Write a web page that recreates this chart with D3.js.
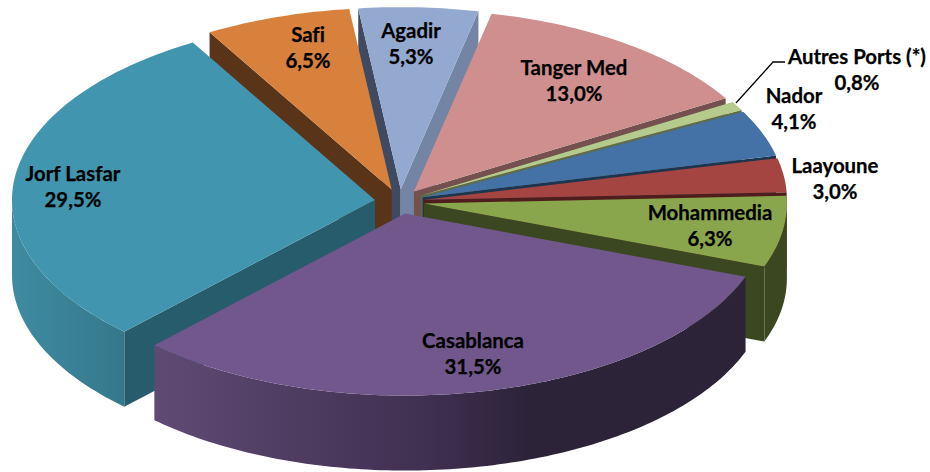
<!DOCTYPE html>
<html>
<head>
<meta charset="utf-8">
<script src="https://cdn.jsdelivr.net/npm/d3@7/dist/d3.min.js"></script>
<style>
html,body{margin:0;padding:0;background:#fff;}
svg{display:block;}
text{font-family:Lato,"Open Sans",sans-serif;font-weight:700;font-size:20.4px;fill:#000;stroke:#000;stroke-width:0.25px;text-anchor:middle;font-variant-ligatures:none;}
</style>
</head>
<body>
<svg id="chart" width="930" height="472"></svg>
<script>
// Data
const categories = ["Mohammedia","Casablanca","Jorf Lasfar","Safi","Agadir","Tanger Med","Autres Ports (*)","Nador","Laayoune"];
const values = [6.3,31.5,29.5,6.5,5.3,13.0,0.8,4.1,3.0];

// Styles
const topColors  = ["#8aa64d","#71578c","#4195ae","#d8813d","#94a9d0","#cf8f8f","#b5cb8e","#4471a6","#a54542"];
const wallColors = ["#3b4720","#2d2339","#265c6b","#5a3418","#3f4a60","#74504f","#5f6b49","#1e3550","#4f1d1c"];
const endWallColors = {"Agadir":"#7484a4"};
const sideStops = {
  "Jorf Lasfar":[["#3f8ba1",11],["#35788b",124]],
  "Casablanca":[["#5f4a74",155],["#3f2f50",430],["#2c2339",530]],
  "Mohammedia":[["#3b4720",740],["#3b4720",790]]
};
// Layout
const cx=399.5, cy=201.5, Rx=363, Ry=182, depth=75, explode=0.068;
const startDeg=-2.4;
const labelPos={
  "Casablanca":[473,341],"Jorf Lasfar":[73,174],"Safi":[308,35],"Agadir":[411,31],
  "Tanger Med":[574,68],"Autres Ports (*)":[857,57],"Nador":[794,96],"Laayoune":[835,166],"Mohammedia":[710,213]
};
const paintOrder=["Agadir","Safi","Tanger Med","Autres Ports (*)","Nador","Laayoune","Mohammedia","Jorf Lasfar","Casablanca"];
const leader=[[736,103],[773,62],[785,62]];

const x=d3.scaleLinear().domain([-1,1]).range([cx-Rx,cx+Rx]);
const y=d3.scaleLinear().domain([-1,1]).range([cy-Ry,cy+Ry]);
const line=d3.line();
const svg=d3.select("#chart");
const defs=svg.append("defs");

const rad=Math.PI/180;
const pie=d3.pie().sort(null).startAngle(startDeg*rad).endAngle(startDeg*rad+2*Math.PI);
// d3.pie angle t measured as theta clockwise from east on the ellipse
const arcs=pie(values).map((d,i)=>({name:categories[i],value:values[i],t0:d.startAngle,t1:d.endAngle,i}));

function slicePoints(d){
  const mid=(d.t0+d.t1)/2;
  const ox=explode*Math.cos(mid), oy=explode*Math.sin(mid);
  const pt=(t,dz=0,r=1)=>[x(ox+r*Math.cos(t)),y(oy+r*Math.sin(t))+dz];
  return {pt,apex:(dz=0)=>pt(0,dz,0)};
}
function sweep(a,b){const n=Math.max(2,Math.ceil((b-a)/(1*rad)));return d3.range(n+1).map(k=>a+(b-a)*k/n);}

arcs.sort((a,b)=>paintOrder.indexOf(a.name)-paintOrder.indexOf(b.name));
arcs.forEach(d=>{
  const {pt,apex}=slicePoints(d);
  const g=svg.append("g");
  // cut walls
  if(Math.cos(d.t0)<0){
    g.append("path").attr("d",line([apex(),pt(d.t0),pt(d.t0,depth),apex(depth)])+"Z").attr("fill",wallColors[d.i]);
  }
  if(Math.cos(d.t1)>0){
    g.append("path").attr("d",line([apex(),pt(d.t1),pt(d.t1,depth),apex(depth)])+"Z").attr("fill",endWallColors[d.name]||wallColors[d.i]);
  }
  // outer wall: front-facing part only
  const a=Math.max(d.t0,0), b=Math.min(d.t1,Math.PI);
  if(b>a){
    const ts=sweep(a,b);
    let fill=wallColors[d.i];
    if(sideStops[d.name]){
      const id="side"+d.i, st=sideStops[d.name];
      const grad=defs.append("linearGradient").attr("id",id).attr("gradientUnits","userSpaceOnUse")
        .attr("x1",st[0][1]).attr("x2",st[st.length-1][1]).attr("y1",0).attr("y2",0);
      st.forEach(s=>grad.append("stop").attr("offset",(s[1]-st[0][1])/(st[st.length-1][1]-st[0][1])).attr("stop-color",s[0]));
      fill="url(#"+id+")";
    }
    const pts=ts.map(t=>pt(t)).concat(ts.slice().reverse().map(t=>pt(t,depth)));
    g.append("path").attr("d",line(pts)+"Z").attr("fill",fill);
  }
  // top
  const top=[apex()].concat(sweep(d.t0,d.t1).map(t=>pt(t)));
  g.append("path").attr("d",line(top)+"Z").attr("fill",topColors[d.i]);
});

svg.append("path").attr("d",line(leader)).attr("fill","none").attr("stroke","#000").attr("stroke-width",1.3);

categories.forEach((c,i)=>{
  const p=labelPos[c];
  const t=svg.append("text").attr("x",p[0]).attr("y",p[1]);
  t.append("tspan").attr("x",p[0]).attr("dy","0.35em").text(c);
  t.append("tspan").attr("x",p[0]).attr("dy","26px").text(d3.format(".1f")(values[i]).replace(".",",")+"%");
});
</script>
</body>
</html>
